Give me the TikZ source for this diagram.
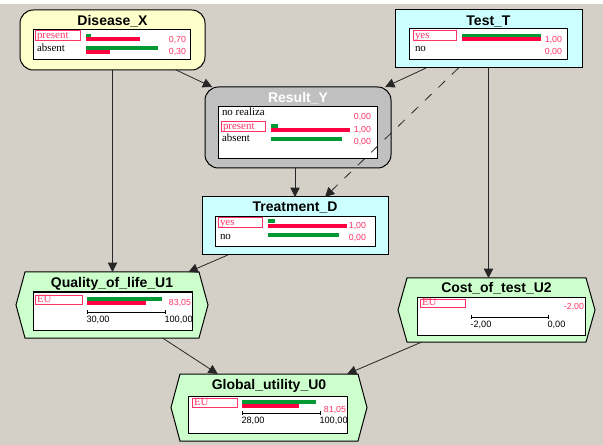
\documentclass[tikz,border=0pt]{standalone}
\usepackage{fontspec}
\setmainfont{Liberation Serif}
\newfontfamily\sansf{Liberation Sans}
\usetikzlibrary{arrows.meta,fit}
\definecolor{bg}{HTML}{D4D0C8}
\definecolor{ylw}{HTML}{FFFFCC}
\definecolor{cyn}{HTML}{CCFFFF}
\definecolor{lgr}{HTML}{CCFFCC}
\definecolor{gry}{HTML}{C0C0C0}
\definecolor{bred}{HTML}{FF0040}
\definecolor{bgrn}{HTML}{009933}
\definecolor{vred}{HTML}{FF3366}
\newcommand\hexpath[2]{\draw[hexst,fill=#2] (#1.west) -- ([xshift=6.75pt]#1.north west) -- ([xshift=-6.75pt]#1.north east) -- (#1.east) -- ([xshift=-6.75pt]#1.south east) -- ([xshift=6.75pt]#1.south west) -- cycle;}
\begin{document}
\begin{tikzpicture}[x=0.75pt,y=-0.75pt,
 every node/.style={inner sep=0pt, outer sep=0pt},
 chance/.style={draw=black, line width=0.75pt, rounded corners=10pt},
 decis/.style={draw=black, line width=0.75pt},
 hexst/.style={draw=black, line width=0.75pt},
 frame/.style={draw=black, fill=white, line width=0.75pt},
 lblbox/.style={draw=vred, line width=0.75pt},
 title/.style={font=\sansf\bfseries\fontsize{10.5}{12}\selectfont, text height=7.6pt, text depth=0pt},
 st/.style={font=\fontsize{8.2}{9}\selectfont, anchor=west, text height=5.5pt, text depth=1.6pt},
 val/.style={font=\sansf\fontsize{6.6}{8}\selectfont, text=vred, anchor=east, text height=5pt, text depth=1pt},
 scl/.style={font=\sansf\fontsize{6.9}{8}\selectfont, anchor=west, text height=5pt, text depth=1pt},
 gbar/.style={fill=bgrn},
 rbar/.style={fill=bred},
 arr/.style={draw=black!85, line width=0.6pt, -{Triangle[length=7pt,width=7pt]}},
]
\useasboundingbox (0,0) rectangle (603,445);
\fill[bg] (0,0) rectangle (603,445);
\fill[white] (0,0) rectangle (603,4);

% ---------- Disease_X ----------
\node[chance, fill=ylw, fit={(20,10) (205,70)}] (dis) {};
\node[title] (dist) at (112.5,20) {Disease\_X};
\draw[frame] (33,30) rectangle (190,60);
\draw[lblbox] (35,31) rectangle (80,41);
\node[st, text=vred] (dis1) at (37,36) {present};
\node[st] (dis2) at (37,48.5) {absent};
\fill[gbar] (86,34) rectangle (91,37.5);
\fill[rbar] (86,37.5) rectangle (140,41.5);
\fill[gbar] (86,46.5) rectangle (158,50);
\fill[rbar] (86,50) rectangle (110,54);
\node[val] (disv1) at (186,40) {0,70};
\node[val] (disv2) at (186,52) {0,30};

% ---------- Test_T ----------
\node[decis, fill=cyn, fit={(395,10) (582,68)}] (tst) {};
\node[title] (tstt) at (488.5,20) {Test\_T};
\draw[frame] (409,29) rectangle (567,60);
\draw[lblbox] (413,31) rectangle (456,41);
\node[st, text=vred] (tst1) at (415,36) {yes};
\node[st] (tst2) at (415,48.5) {no};
\fill[gbar] (462,34) rectangle (541,37.5);
\fill[rbar] (462,37.5) rectangle (541,41.5);
\node[val] (tstv1) at (562,40) {1,00};
\node[val] (tstv2) at (562,52) {0,00};

% ---------- Result_Y ----------
\node[chance, fill=gry, fit={(205,87) (391,168)}] (res) {};
\node[title, text=white] (rest) at (298,97) {Result\_Y};
\draw[frame] (218,107) rectangle (377,159);
\node[st] (res0) at (222,113) {no realiza};
\draw[lblbox] (221,122) rectangle (265,132);
\node[st, text=vred] (res1) at (223,126.5) {present};
\node[st] (res2) at (222,139) {absent};
\fill[gbar] (271,124) rectangle (278,128);
\fill[rbar] (271,128) rectangle (350,132);
\fill[gbar] (271,137.5) rectangle (342,141);
\node[val] (resv0) at (371,117) {0,00};
\node[val] (resv1) at (371,130) {1,00};
\node[val] (resv2) at (371,142) {0,00};

% ---------- Treatment_D ----------
\node[decis, fill=cyn, fit={(202,197) (388,255)}] (trt) {};
\node[title] (trtt) at (295,206.5) {Treatment\_D};
\draw[frame] (215,217) rectangle (375,247);
\draw[lblbox] (218,218) rectangle (262,228);
\node[st, text=vred] (trt1) at (220,223) {yes};
\node[st] (trt2) at (220,236.5) {no};
\fill[gbar] (268,219.5) rectangle (275,223);
\fill[rbar] (268,224) rectangle (347,228);
\fill[gbar] (268,233.5) rectangle (339,237);
\node[val] (trtv1) at (366,226) {1,00};
\node[val] (trtv2) at (366,238) {0,00};

% ---------- Quality_of_life_U1 ----------
\node[fit={(16,272) (208,338)}] (qol) {};
\hexpath{qol}{lgr}
\node[title] (qolt) at (112,282) {Quality\_of\_life\_U1};
\draw[frame] (33,292) rectangle (192,330);
\draw[lblbox] (35,295) rectangle (82,304);
\node[st, text=vred] (qol1) at (37,299.5) {EU};
\fill[gbar] (87,297) rectangle (162,300.5);
\fill[rbar] (87,300.5) rectangle (146,305);
\node[val] (qolv) at (191,302.5) {83,05};
\draw[line width=0.6pt] (87,312) -- (165,312) (87,310) -- (87,314) (165,310) -- (165,314);
\node[scl] (qols1) at (86.5,320) {30,00};
\node[scl] (qols2) at (164.5,320) {100,00};

% ---------- Cost_of_test_U2 ----------
\node[fit={(398,278) (595,342)}] (cst) {};
\hexpath{cst}{lgr}
\node[title] (cstt) at (496.5,287.5) {Cost\_of\_test\_U2};
\draw[frame] (417,297) rectangle (585,335);
\draw[lblbox] (420,299) rectangle (465,307);
\node[st, text=vred] (cst1) at (422,303) {EU};
\node[val] (cstv) at (584,307) {-2,00};
\draw[line width=0.6pt] (471,317) -- (548,317) (471,315) -- (471,319) (548,315) -- (548,319);
\node[scl] (csts1) at (470.5,325) {-2,00};
\node[scl] (csts2) at (547.5,325) {0,00};

% ---------- Global_utility_U0 ----------
\node[fit={(171,374) (367,441)}] (glb) {};
\hexpath{glb}{lgr}
\node[title] (glbt) at (269,384) {Global\_utility\_U0};
\draw[frame] (188,396) rectangle (347,433);
\draw[lblbox] (192,398) rectangle (237,407);
\node[st, text=vred] (glb1) at (194,402.5) {EU};
\fill[gbar] (242,400) rectangle (316,403.5);
\fill[rbar] (242,403.5) rectangle (299,408);
\node[val] (glbv) at (346,410) {81,05};
\draw[line width=0.6pt] (242,413) -- (320,413) (242,411) -- (242,415) (320,411) -- (320,415);
\node[scl] (glbs1) at (241.5,421) {28,00};
\node[scl] (glbs2) at (319.5,421) {100,00};

% ---------- connectors ----------
\draw[arr] (dis.south) -- (dis.south |- qol.north);
\draw[arr] (dis) -- (res);
\draw[arr] (tst) -- (res);
\draw[arr, dash pattern=on 7pt off 7pt] (tst) -- (trt);
\draw[arr] (res.south -| trt.north) -- (trt.north);
\draw[arr] (tst.south) -- (tst.south |- cst.north);
\draw[arr] (trt) -- (qol);
\draw[arr] (qol) -- (glb);
\draw[arr] (cst) -- (glb);
\end{tikzpicture}
\end{document}
